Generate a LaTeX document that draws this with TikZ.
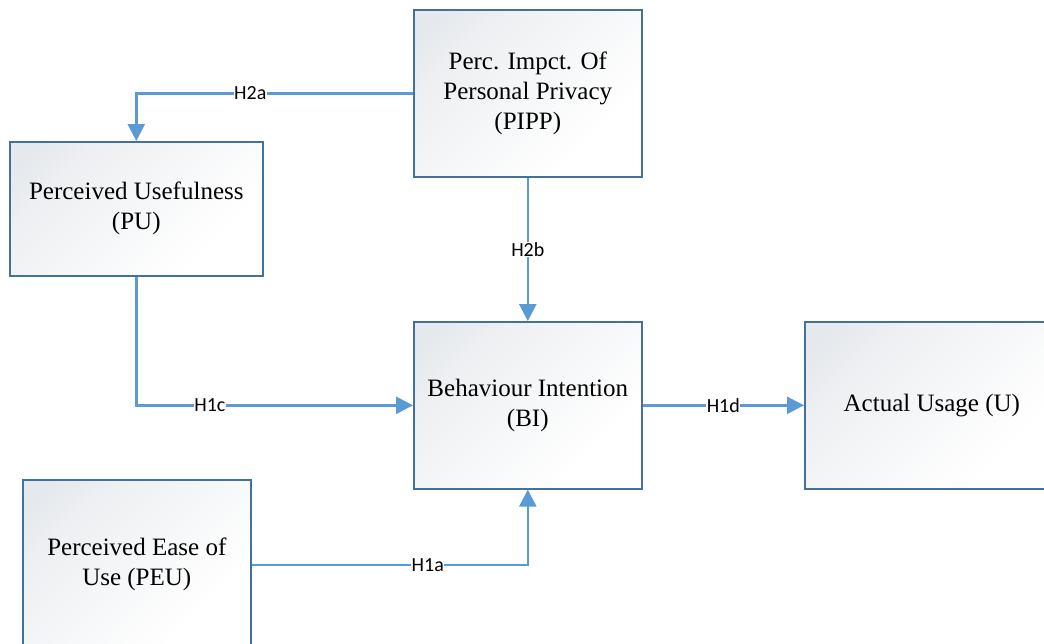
\documentclass[tikz,border=0pt]{standalone}
\usepackage{fontspec}
\setmainfont{Liberation Serif}
\newfontfamily\labfont{Carlito}
\usetikzlibrary{arrows.meta}
\definecolor{boxline}{HTML}{41719C}
\definecolor{conn}{HTML}{5B9BD5}
\definecolor{shadetop}{HTML}{E5E8EC}
\pgfdeclareverticalshading{boxshade}{100bp}{color(0bp)=(white); color(30bp)=(white); color(70bp)=(shadetop!70!white); color(80bp)=(shadetop); color(100bp)=(shadetop)}
\tikzset{
  x=1pt, y=-1pt,
  boxnode/.style={draw=boxline, line width=1.6pt, rectangle, align=center,
    shading=boxshade, shading angle=45,
    font=\fontsize{25}{30}\selectfont, inner sep=0pt, anchor=north west},
  connector/.style={draw=conn, line width=2.5pt,
    -{Triangle[length=17pt,width=17pt]}},
  hlabel/.style={fill=white, inner sep=0.5pt, text=black,
    font=\labfont\fontsize{20}{22}\selectfont}
}
\begin{document}
\begin{tikzpicture}
\useasboundingbox (0,0) rectangle (1044,643);
\node[boxnode, minimum width=228pt, minimum height=167pt] (pipp) at (413,9)
  {Perc. Impct. Of\\Personal Privacy\\(PIPP)};
\node[boxnode, minimum width=253pt, minimum height=134pt] (pu) at (9,141)
  {Perceived Usefulness\\(PU)};
\node[boxnode, minimum width=228pt, minimum height=167pt] (bi) at (413,321)
  {Behaviour Intention\\(BI)};
\node[boxnode, minimum width=254pt, minimum height=167pt] (u) at (804,321)
  {Actual Usage (U)};
\node[boxnode, minimum width=228pt, minimum height=170pt] (peu) at (22,479)
  {Perceived Ease of\\Use (PEU)};

\draw[connector] (pipp.west) -| node[hlabel, pos=0.294] {H2a} (pu.north);
\draw[connector] (pipp.south) -- node[hlabel, pos=0.5] {H2b} (bi.north);
\draw[connector] (pu.south) |- node[hlabel, pos=0.633] {H1c} (bi.west);
\draw[connector] (peu.east) -| node[hlabel, pos=0.319] {H1a} (bi.south);
\draw[connector] (bi.east) -- node[hlabel, pos=0.5] {H1d} (u.west);
\end{tikzpicture}
\end{document}
